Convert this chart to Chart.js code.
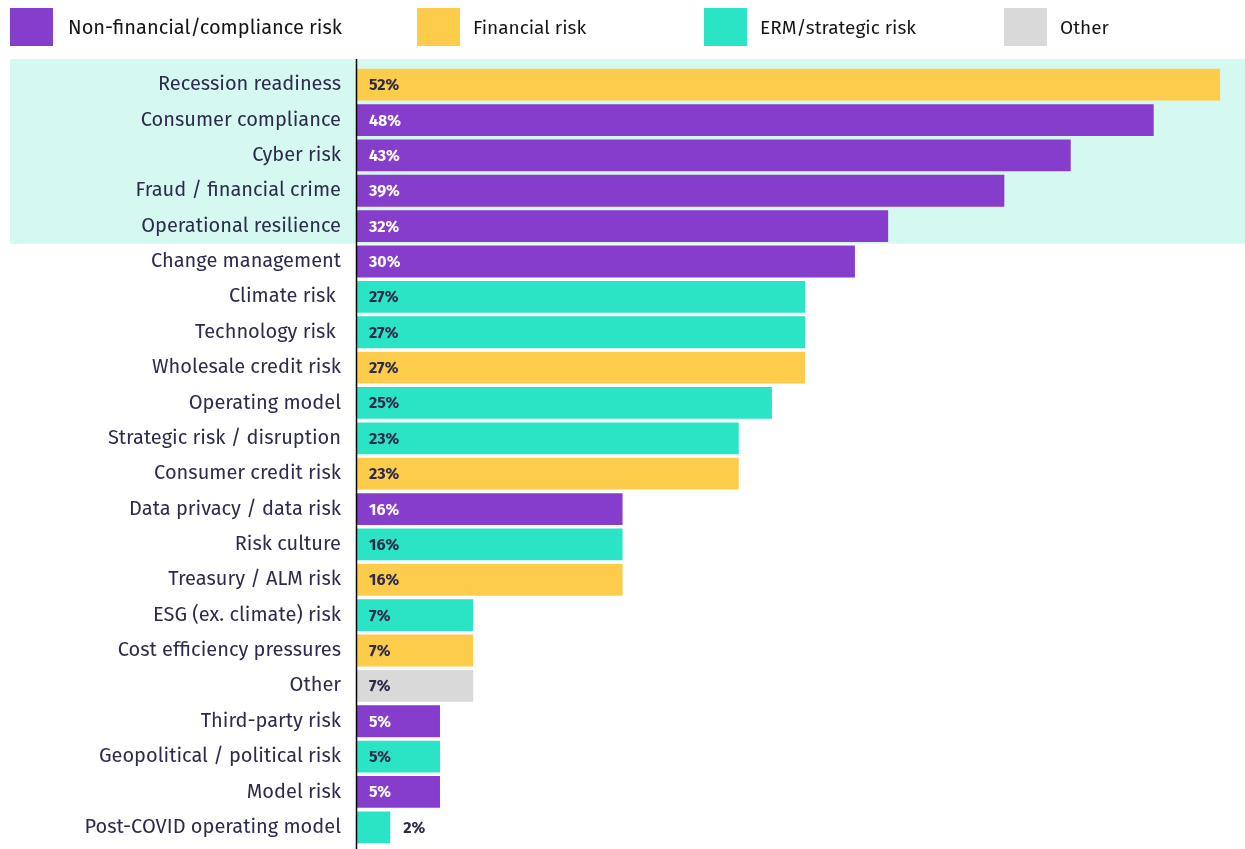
<!DOCTYPE html>
<html>
<head>
<meta charset="utf-8">
<script src="https://cdn.jsdelivr.net/npm/chart.js@4/dist/chart.umd.min.js"></script>
<style>
  html, body { margin: 0; padding: 0; background: #fff; }
  #wrap { position: relative; width: 1245px; height: 849px; overflow: hidden; }
  #chart { position: absolute; left: 0; top: 0; }
  .leg { position: absolute; top: 8px; height: 38px; display: flex; align-items: center;
         font-family: "Fira Sans", "Noto Sans", sans-serif; font-size: 19px; color: #151515; }
  .leg i { display: inline-block; width: 43px; height: 38px; margin-right: 13px; }
</style>
</head>
<body>
<div id="wrap">
  <canvas id="chart" width="1245" height="865"></canvas>
  <div class="leg" style="left:10px;font-size:20px"><i style="background:#873dcb;margin-right:15px"></i>Non-financial/compliance risk</div>
  <div class="leg" style="left:417px"><i style="background:#fdcc4b"></i>Financial risk</div>
  <div class="leg" style="left:704px"><i style="background:#2be4c6"></i>ERM/strategic risk</div>
  <div class="leg" style="left:1004px"><i style="background:#d9d9d9"></i>Other</div>
</div>
<script>
const categories = [
    'Recession readiness', 'Consumer compliance', 'Cyber risk', 'Fraud / financial crime',
    'Operational resilience', 'Change management', 'Climate risk ', 'Technology risk ',
    'Wholesale credit risk', 'Operating model', 'Strategic risk / disruption', 'Consumer credit risk',
    'Data privacy / data risk', 'Risk culture', 'Treasury / ALM risk', 'ESG (ex. climate) risk',
    'Cost efficiency pressures', 'Other', 'Third-party risk', 'Geopolitical / political risk',
    'Model risk', 'Post-COVID operating model'
];
const values = [52, 48, 43, 39, 32, 30, 27, 27, 27, 25, 23, 23, 16, 16, 16, 7, 7, 7, 5, 5, 5, 2];
// N = non-financial/compliance, F = financial, E = ERM/strategic, O = other
const riskTypes = ['F', 'N', 'N', 'N', 'N', 'N', 'E', 'E', 'F', 'E', 'E', 'F', 'N', 'E', 'F', 'E', 'F', 'O', 'N', 'E', 'N', 'E'];
const highlightedRows = 5;

const typeColors = { N: '#873dcb', F: '#fdcc4b', E: '#2be4c6', O: '#d9d9d9' };
const textColors = { N: '#ffffff', F: '#2d2b4b', E: '#2d2b4b', O: '#2d2b4b' };

// light band behind top rows + vertical axis line
const bandPlugin = {
    id: 'band',
    beforeDraw(chart) {
        const ctx = chart.ctx, y = chart.scales.y;
        const step = y.getPixelForValue(1) - y.getPixelForValue(0);
        const top = y.getPixelForValue(0) - step / 2 - 8;
        const bottom = y.getPixelForValue(highlightedRows - 1) + step / 2;
        ctx.save();
        ctx.fillStyle = '#d5f8f1';
        ctx.fillRect(10, top, chart.width - 10, bottom - top);
        ctx.restore();
    },
    afterDatasetsDraw(chart) {
        const ctx = chart.ctx, area = chart.chartArea;
        ctx.save();
        ctx.strokeStyle = '#000';
        ctx.lineWidth = 1.5;
        ctx.beginPath();
        ctx.moveTo(area.left - 0.5, 59);
        ctx.lineTo(area.left - 0.5, chart.height);
        ctx.stroke();
        ctx.restore();
    }
};

// percentage labels inside bar start (outside when bar too short)
const valuePlugin = {
    id: 'values',
    afterDatasetsDraw(chart) {
        const ctx = chart.ctx;
        const meta = chart.getDatasetMeta(0);
        ctx.save();
        ctx.font = 'bold 16px "Fira Sans", "Noto Sans", sans-serif';
        ctx.textBaseline = 'middle';
        ctx.textAlign = 'left';
        meta.data.forEach((bar, i) => {
            const w = bar.x - bar.base;
            if (w < 40) {
                ctx.fillStyle = '#2d2b4b';
                ctx.fillText(values[i] + '%', bar.x + 13, bar.y + 1);
            } else {
                ctx.fillStyle = textColors[riskTypes[i]];
                ctx.fillText(values[i] + '%', bar.base + 12, bar.y + 1);
            }
        });
        ctx.restore();
    }
};

new Chart(document.getElementById('chart'), {
    type: 'bar',
    data: {
        labels: categories,
        datasets: [{
            data: values,
            backgroundColor: riskTypes.map(t => typeColors[t]),
            borderWidth: 0,
            barPercentage: 0.9,
            categoryPercentage: 1.0
        }]
    },
    options: {
        indexAxis: 'y',
        responsive: false,
        animation: false,
        layout: { padding: { top: 67, bottom: -16, left: 0, right: 0 } },
        scales: {
            x: {
                display: false,
                min: 0,
                max: 53.5
            },
            y: {
                afterFit(scale) { scale.width = 357; },
                grid: { display: false },
                border: { display: false },
                ticks: {
                    padding: 8,
                    color: '#2d2b4b',
                    font: { family: '"Fira Sans", "Noto Sans", sans-serif', size: 20 }
                }
            }
        },
        plugins: {
            legend: { display: false },
            tooltip: { enabled: false }
        }
    },
    plugins: [bandPlugin, valuePlugin]
});
</script>
</body>
</html>
